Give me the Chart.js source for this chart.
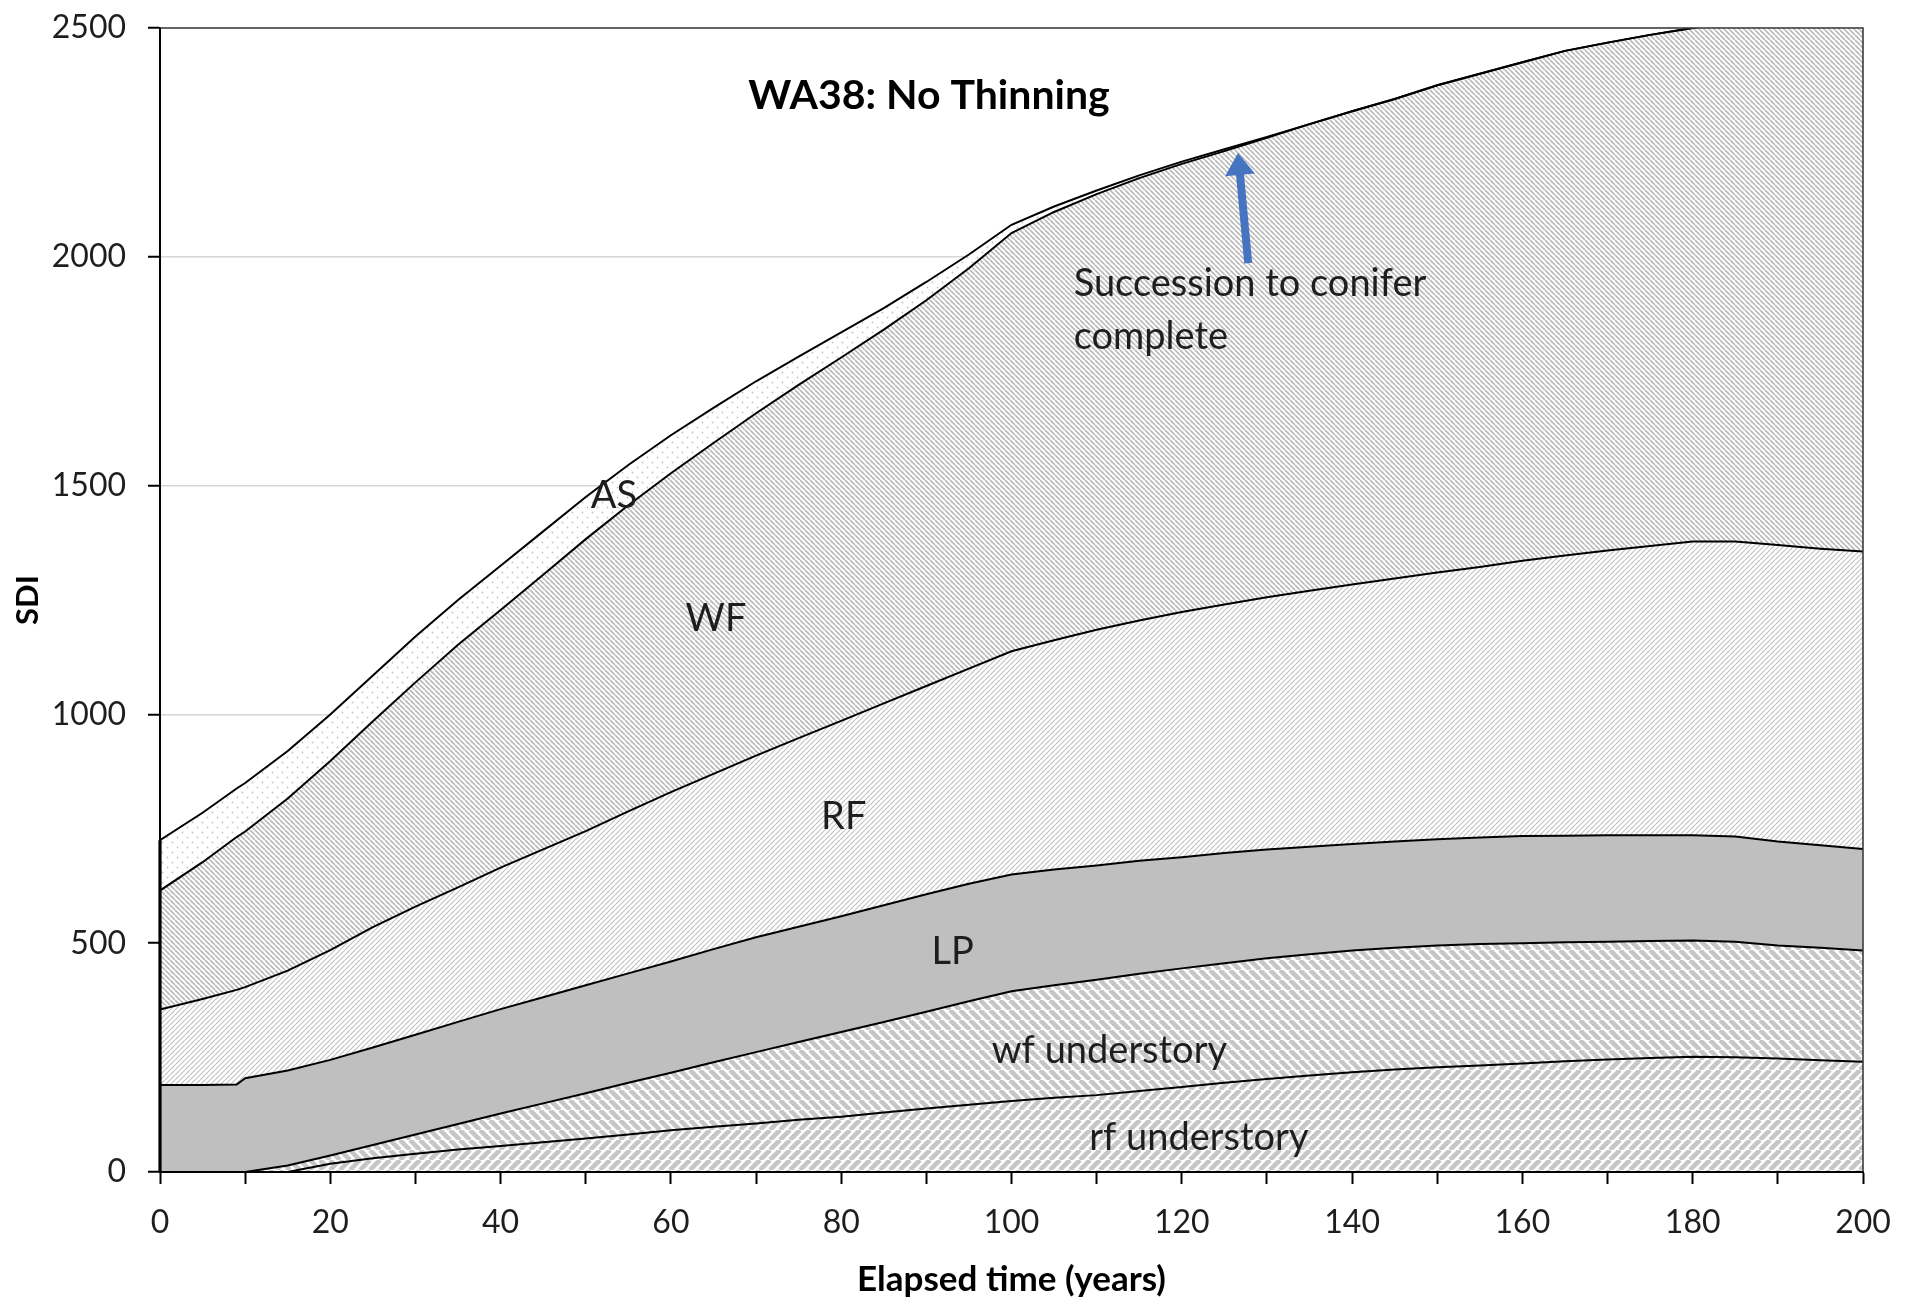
<!DOCTYPE html>
<html>
<head>
<meta charset="utf-8">
<title>WA38: No Thinning</title>
<script src="https://cdn.jsdelivr.net/npm/chart.js@4.4.1/dist/chart.umd.min.js"></script>
<style>
  html, body { margin: 0; padding: 0; background: #ffffff; }
  canvas { display: block; }
</style>
</head>
<body>
<canvas id="sdiChart" width="1917" height="1300"></canvas>
<script>
// Elapsed time (years) at which stand density index is reported
const years = [0, 5, 9, 10, 15, 20, 25, 30, 35, 40, 45, 50, 55, 60, 65, 70, 75, 80, 85, 90, 95,
  100, 105, 110, 115, 120, 125, 130, 135, 140, 145, 150, 155, 160, 165, 170, 175, 180, 185, 190, 195, 200];

// SDI contributed by each component (stacked bottom to top)
const rfUnderstory = [0, 0, 0, 0, 0, 18, 30, 40, 49, 57, 65, 73, 82, 91, 99, 106, 114, 121, 130, 139, 147,
  155, 162, 168, 177, 186, 195, 203, 211, 218, 224, 229, 233, 237, 242, 246, 249, 252, 251, 248, 244, 241];
const wfUnderstory = [0, 0, 0, 0, 14, 18, 29, 42, 56, 71, 85, 99, 113, 126, 141, 156, 170, 185, 198, 211, 226,
  240, 246, 252, 256, 259, 261, 264, 265, 266, 266, 266, 265, 263, 260, 257, 256, 254, 252, 247, 246, 243];
const lodgepolePine = [190, 190, 191, 205, 208, 209, 213, 218, 223, 228, 232, 236, 239, 243, 247, 251, 252, 253, 255, 257, 257,
  255, 253, 250, 247, 243, 241, 238, 235, 233, 232, 232, 233, 234, 233, 233, 231, 230, 230, 227, 224, 222];
const redFir = [165, 188, 207, 199, 218, 240, 263, 280, 294, 309, 323, 337, 354, 370, 383, 397, 412, 427, 441, 455, 470,
  488, 501, 515, 525, 536, 543, 551, 559, 567, 575, 583, 591, 602, 612, 622, 632, 642, 645, 648, 648, 650];
const whiteFir = [260, 299, 334, 340, 376, 413, 450, 490, 530, 563, 600, 638, 669, 697, 723, 748, 772, 794, 817, 843, 875,
  914, 936, 952, 967, 979, 991, 1004, 1020, 1034, 1048, 1065, 1078, 1089, 1103, 1110, 1117, 1122, 1137, 1160, 1183, 1204];
const aspen = [110, 108, 106, 106, 104, 102, 100, 100, 98, 97, 95, 92, 88, 83, 77, 70, 62, 55, 47, 40, 30,
  18, 12, 8, 6, 5, 4, 2, 0, 0, 0, 0, 0, 0, 0, 0, 0, 0, 0, 0, 0, 0];

const seriesNames = ['rf understory', 'wf understory', 'LP', 'RF', 'WF', 'AS'];

// Axis ticks
const yTickValues = [0, 500, 1000, 1500, 2000, 2500];
const xLabelYears = [0, 20, 40, 60, 80, 100, 120, 140, 160, 180, 200];

const FONT = 'Lato, "Open Sans", "DejaVu Sans", sans-serif';

// ---- fill patterns -------------------------------------------------------
function stripes(size, dir, color, width) {
  const c = document.createElement('canvas');
  c.width = size; c.height = size;
  const g = c.getContext('2d');
  g.fillStyle = '#ffffff';
  g.fillRect(0, 0, size, size);
  g.strokeStyle = color;
  g.lineWidth = width;
  g.beginPath();
  for (let k = -1; k <= 1; k++) {
    if (dir === 'up') { g.moveTo(k * size, size); g.lineTo(k * size + size, 0); }
    else { g.moveTo(k * size, 0); g.lineTo(k * size + size, size); }
  }
  g.stroke();
  return g.createPattern(c, 'repeat');
}
function dots(size, color, r) {
  const c = document.createElement('canvas');
  c.width = size; c.height = size;
  const g = c.getContext('2d');
  g.fillStyle = '#ffffff';
  g.fillRect(0, 0, size, size);
  g.fillStyle = color;
  [[0.25, 0.25], [0.75, 0.75]].forEach(([a, b]) => {
    g.beginPath(); g.arc(a * size, b * size, r, 0, Math.PI * 2); g.fill();
  });
  return g.createPattern(c, 'repeat');
}

const fills = [
  stripes(10, 'up', '#c6c6c6', 4.6),    // rf understory: wide upward diagonal
  stripes(10, 'down', '#c6c6c6', 4.6),  // wf understory: wide downward diagonal
  '#bfbfbf',                            // LP: solid grey
  stripes(5, 'up', '#c2c2c2', 1.2),     // RF: light upward diagonal
  stripes(5, 'down', '#b9b9b9', 1.6),   // WF: dark downward diagonal
  dots(10, '#c4c4c4', 0.9)              // AS: dotted
];

const seriesValues = [rfUnderstory, wfUnderstory, lodgepolePine, redFir, whiteFir, aspen];

const datasets = seriesValues.map((vals, i) => ({
  label: seriesNames[i],
  data: years.map((t, j) => ({ x: t, y: vals[j] })),
  backgroundColor: fills[i],
  borderColor: '#000000',
  borderWidth: 2,
  pointRadius: 0,
  tension: 0,
  fill: i === 0 ? 'origin' : '-1'
}));

// ---- text placed on the plot (data coordinates, alphabetic baseline) ----
const areaLabels = [
  { text: 'AS', t: 53.3, v: 1450, align: 'center' },
  { text: 'WF', t: 65.3, v: 1182, align: 'center' },
  { text: 'RF', t: 80.3, v: 750, align: 'center' },
  { text: 'LP', t: 93.1, v: 454, align: 'center' },
  { text: 'wf understory', t: 111.5, v: 238, align: 'center' },
  { text: 'rf understory', t: 122.0, v: 47, align: 'center' },
  { text: 'Succession to conifer', t: 107.3, v: 1914, align: 'left' },
  { text: 'complete', t: 107.3, v: 1798, align: 'left' }
];
const arrowFrom = { t: 127.8, v: 1986 };
const arrowTo = { t: 126.6, v: 2227 };

const overlay = {
  id: 'overlay',
  afterDatasetsDraw(chart) {
    const { ctx, chartArea: a, scales: { x, y } } = chart;
    ctx.save();

    // plot frame
    ctx.lineCap = 'butt';
    ctx.strokeStyle = '#3c3c3c';
    ctx.lineWidth = 1.6;
    ctx.beginPath();
    ctx.moveTo(a.left, a.top);
    ctx.lineTo(a.right, a.top);
    ctx.lineTo(a.right, a.bottom);
    ctx.stroke();

    ctx.strokeStyle = '#000000';
    ctx.lineWidth = 2;
    ctx.beginPath();
    ctx.moveTo(a.left, a.top);
    ctx.lineTo(a.left, a.bottom);
    ctx.lineTo(a.right, a.bottom);
    ctx.stroke();

    // left edge of the stacked areas
    const total0 = seriesValues.reduce((s, arr) => s + arr[0], 0);
    ctx.lineWidth = 3.2;
    ctx.beginPath();
    ctx.moveTo(x.getPixelForValue(years[0]), y.getPixelForValue(0));
    ctx.lineTo(x.getPixelForValue(years[0]), y.getPixelForValue(total0));
    ctx.stroke();

    // area labels
    ctx.fillStyle = '#1e1e1e';
    ctx.font = '38px ' + FONT;
    ctx.textBaseline = 'alphabetic';
    areaLabels.forEach(l => {
      ctx.textAlign = l.align;
      ctx.fillText(l.text, x.getPixelForValue(l.t), y.getPixelForValue(l.v));
    });

    // arrow marking the end of the aspen component
    const x0 = x.getPixelForValue(arrowFrom.t), y0 = y.getPixelForValue(arrowFrom.v);
    const x1 = x.getPixelForValue(arrowTo.t), y1 = y.getPixelForValue(arrowTo.v);
    const ang = Math.atan2(y1 - y0, x1 - x0);
    const headLen = 22, headHalf = 15, shaftHalf = 4;
    const bx = x1 - headLen * Math.cos(ang), by = y1 - headLen * Math.sin(ang);
    const nx = -Math.sin(ang), ny = Math.cos(ang);
    ctx.fillStyle = '#4674c1';
    ctx.beginPath();
    ctx.moveTo(x0 + nx * shaftHalf, y0 + ny * shaftHalf);
    ctx.lineTo(bx + nx * shaftHalf, by + ny * shaftHalf);
    ctx.lineTo(bx + nx * headHalf, by + ny * headHalf);
    ctx.lineTo(x1, y1);
    ctx.lineTo(bx - nx * headHalf, by - ny * headHalf);
    ctx.lineTo(bx - nx * shaftHalf, by - ny * shaftHalf);
    ctx.lineTo(x0 - nx * shaftHalf, y0 - ny * shaftHalf);
    ctx.closePath();
    ctx.fill();

    // chart title
    ctx.fillStyle = '#000000';
    ctx.font = 'bold 41px ' + FONT;
    ctx.textAlign = 'center';
    ctx.fillText('WA38: No Thinning', a.left + 769, a.top + 81);

    // axis titles
    ctx.font = 'bold 35px ' + FONT;
    ctx.fillText('Elapsed time (years)', (a.left + a.right) / 2, a.bottom + 119);
    ctx.font = 'bold 31px ' + FONT;
    ctx.translate(38, (a.top + a.bottom) / 2);
    ctx.rotate(-Math.PI / 2);
    ctx.fillText('SDI', 0, 0);

    ctx.restore();
  }
};

Chart.defaults.font.family = FONT;
Chart.defaults.font.size = 32;
Chart.defaults.color = '#1e1e1e';

new Chart(document.getElementById('sdiChart'), {
  type: 'line',
  data: { datasets },
  options: {
    responsive: false,
    animation: false,
    events: [],
    layout: { autoPadding: false, padding: { left: 0, right: 54, top: 28, bottom: 0 } },
    plugins: {
      legend: { display: false },
      tooltip: { enabled: false },
      filler: { drawTime: 'beforeDatasetsDraw', propagate: false }
    },
    scales: {
      x: {
        type: 'linear',
        min: 0,
        max: 200,
        ticks: {
          stepSize: 10,
          autoSkip: false,
          maxTicksLimit: 50,
          maxRotation: 0,
          padding: 19,
          callback: v => (xLabelYears.includes(v) ? String(v) : '')
        },
        grid: { drawOnChartArea: false, tickLength: 12, tickColor: '#000000', tickWidth: 2 },
        border: { color: '#000000', width: 2 },
        afterFit: s => { s.height = 128; s.paddingLeft = 0; s.paddingRight = 0; }
      },
      y: {
        stacked: true,
        min: 0,
        max: 2500,
        ticks: {
          stepSize: 500,
          padding: 22,
          callback: v => (yTickValues.includes(v) ? String(v) : '')
        },
        grid: { color: '#d6d6d6', lineWidth: 1.5, tickLength: 12, tickColor: '#000000', tickWidth: 2 },
        border: { color: '#000000', width: 2 },
        afterFit: s => { s.width = 160; s.paddingTop = 0; s.paddingBottom = 0; }
      }
    }
  },
  plugins: [overlay]
});
</script>
</body>
</html>
